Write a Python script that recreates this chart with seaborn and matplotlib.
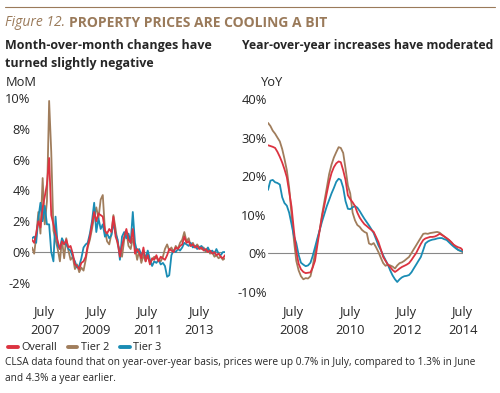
import numpy as np
import pandas as pd
import seaborn as sns
import matplotlib.pyplot as plt
from matplotlib.lines import Line2D

# month-over-month, Jan 2007 - Jul 2014 (%)
mom_overall = [0.8, 0.6, 1.2, 2.0, 1.6, 2.9, 3.6, 4.4, 6.1, 2.4, 1.8, 1.2, 0.7, 0.2, 0.7, 0.5,
               0.8, 0.3, 0.4, -0.1, -0.8, -0.9, -1.1, -0.7, -0.6, -0.3, 0.4, 1.0, 1.8, 2.6, 2.0, 2.5,
               2.4, 2.3, 1.4, 1.2, 1.5, 1.3, 2.3, 1.0, 0.6, -0.3, 0.4, 1.0, 1.5, 0.8, 0.6, 1.5,
               -0.1, 0.2, 0.0, -0.4, 0.3, -0.6, -0.2, -0.8, -0.4, -0.5, -0.2, -0.6, -0.3, -0.4, -0.5, -0.2,
               0.2, 0.1, 0.0, 0.3, 0.2, 0.4, 0.5, 1.0, 0.6, 0.7, 0.4, 0.5, 0.3, 0.4, 0.2, 0.3,
               0.1, 0.2, 0.0, 0.1, -0.1, 0.0, -0.2, -0.1, -0.3, -0.4, -0.2]
mom_tier2 = [0.3, -0.1, 1.0, 2.6, 1.2, 4.8, 1.8, 3.3, 9.8, 6.5, 1.4, 0.8, 0.2, -0.6, 0.8, -0.4,
             0.9, 0.1, -0.5, -0.3, -1.1, -0.8, -1.3, -1.0, -1.2, -0.5, 0.3, 0.8, 1.5, 2.3, 2.9, 2.2,
             3.4, 3.7, 1.4, 0.7, 0.5, 1.2, 2.4, 1.5, 0.5, 0.1, -0.3, 0.8, 1.3, 0.4, 0.2, 0.9,
             0.3, -0.5, 0.1, -0.7, -0.2, -0.6, 0.0, -0.7, -0.5, -0.3, -0.4, -0.5, -0.6, -0.3, 0.2, 0.5,
             0.1, 0.3, 0.0, 0.4, 0.2, 0.6, 0.8, 1.3, 0.7, 0.9, 0.4, 0.6, 0.3, 0.5, 0.3, 0.2,
             0.3, 0.0, 0.2, -0.1, 0.0, -0.3, -0.2, -0.4, -0.3, -0.5, -0.4]
mom_tier3 = [0.9, 1.0, 0.6, 2.2, 3.2, 2.0, 3.0, 1.8, 1.8, 0.0, -0.6, 2.3, 0.4, 0.2, 0.9, 0.6,
             0.5, 0.2, 0.1, -0.3, -0.6, -1.0, -0.9, -0.4, 0.3, 0.5, 0.6, 1.2, 2.0, 3.2, 1.3, 2.2,
             1.5, 1.8, 1.0, 1.2, 0.9, 1.1, 1.9, 1.2, 0.8, -0.5, 1.0, 1.3, 0.9, 1.2, 0.6, 2.6,
             0.6, 0.0, 0.2, -0.2, 0.0, -0.4, 0.1, -0.5, -0.9, -0.6, -0.7, -0.5, -0.8, -0.7, -0.9, -1.6,
             -1.5, -0.2, 0.1, 0.0, 0.2, 0.1, 0.3, 0.6, 0.5, 0.4, 0.6, 0.3, 0.4, 0.2, 0.3, 0.4,
             0.2, 0.1, 0.3, 0.0, 0.1, -0.1, 0.2, -0.1, -0.2, 0.0, 0.0]

# year-over-year, Aug 2007 - Jul 2014 (%)
yoy_overall = [28.0, 27.8, 27.6, 27.3, 26.3, 25.0, 23.5, 21.8, 19.7, 16.0, 12.0, 6.0, 0.5, -2.8,
               -4.2, -4.9, -5.2, -5.1, -5.0, -3.8, -2.0, 2.0, 6.0, 9.5, 12.5, 15.6, 18.5, 20.8,
               22.3, 23.3, 23.8, 23.6, 21.5, 19.0, 15.0, 14.0, 13.2, 12.2, 10.5, 9.2, 8.3, 7.5,
               7.0, 6.5, 6.0, 5.5, 4.2, 2.9, 1.0, -1.0, -2.0, -3.0, -3.6, -4.4, -4.9, -4.5,
               -4.0, -3.6, -3.3, -3.0, -2.6, -1.8, -0.9, 0.0, 1.2, 2.4, 3.4, 3.8, 4.0, 4.2,
               4.2, 4.3, 4.6, 5.0, 4.7, 4.3, 3.9, 3.4, 2.8, 2.2, 1.8, 1.5, 1.3, 0.7]
yoy_tier2 = [33.8, 33.0, 31.8, 31.0, 30.0, 29.0, 27.0, 24.5, 21.5, 17.0, 10.0, 3.5, -2.0, -4.5,
             -6.0, -6.8, -6.5, -6.6, -6.0, -3.6, 0.0, 3.2, 6.0, 10.0, 13.5, 17.0, 20.5, 23.0,
             24.8, 26.2, 27.5, 27.3, 26.0, 22.0, 17.5, 15.5, 10.5, 8.5, 7.3, 6.8, 6.0, 5.5,
             5.2, 2.5, 2.2, 2.6, 1.5, 0.3, -1.2, -2.6, -3.3, -3.0, -3.2, -3.5, -4.0, -3.2,
             -2.6, -2.4, -2.0, -1.5, -1.0, 0.0, 1.0, 2.0, 3.0, 4.0, 5.0, 5.1, 5.0, 5.2,
             5.3, 5.4, 5.5, 5.3, 4.8, 4.3, 3.8, 3.4, 2.8, 2.1, 1.4, 0.8, 0.5, 0.2]
yoy_tier3 = [16.4, 18.8, 19.0, 18.4, 18.2, 17.8, 14.5, 13.0, 12.3, 10.5, 7.5, 4.5, 2.6, -0.5,
             -2.5, -3.0, -3.4, -3.2, -2.5, -0.8, 1.5, 3.8, 6.0, 8.2, 10.2, 12.2, 13.8, 15.5,
             16.9, 18.5, 19.3, 19.0, 17.0, 13.5, 11.5, 11.4, 11.9, 12.2, 11.8, 10.9, 9.9, 8.9,
             8.0, 7.2, 6.2, 5.2, 3.6, 2.0, 0.8, -0.6, -1.8, -3.0, -4.5, -5.8, -6.8, -7.5,
             -6.8, -6.3, -6.0, -5.9, -5.7, -5.0, -4.0, -3.0, -2.0, -1.0, 0.8, 2.5, 3.0, 3.3,
             3.5, 3.6, 3.8, 3.9, 3.9, 3.6, 3.4, 2.8, 2.2, 1.7, 1.2, 0.8, 0.6, 0.4]

mom_ticks = ["2007-07-01", "2009-07-01", "2011-07-01", "2013-07-01"]
yoy_ticks = ["2008-07-01", "2010-07-01", "2012-07-01", "2014-07-01"]

red = "#dc3340"
brown = "#a07d5c"
blue = "#1a8cb4"
title_col = "#9a7a5a"

sns.set_theme(style="white")
plt.rcParams["font.family"] = ["Open Sans", "DejaVu Sans"]

mom_dates = pd.date_range("2007-01-01", periods=len(mom_overall), freq="MS")
yoy_dates = pd.date_range("2007-08-01", periods=len(yoy_overall), freq="MS")

fig = plt.figure(figsize=(5, 3.93), dpi=100)
ax1 = fig.add_axes([0.064, 0.280, 0.386, 0.471])
ax2 = fig.add_axes([0.536, 0.258, 0.390, 0.490])

def draw(ax, dates, t2, t3, ov):
    ax.axhline(0, color="#888888", lw=0.8, zorder=1)
    sns.lineplot(x=dates, y=t2, ax=ax, color=brown, lw=1.3, zorder=2)
    sns.lineplot(x=dates, y=t3, ax=ax, color=blue, lw=1.3, zorder=3)
    sns.lineplot(x=dates, y=ov, ax=ax, color=red, lw=1.3, zorder=4)
    ax.set_xlim(dates[0], dates[-1])
    sns.despine(ax=ax, left=True, bottom=True)
    ax.tick_params(length=0, labelsize=9.3, pad=1)
    ax.set_xlabel("")
    ax.set_ylabel("")

draw(ax1, mom_dates, mom_tier2, mom_tier3, mom_overall)
ax1.set_ylim(-2, 10)
ax1.set_yticks(range(-2, 11, 2))
ax1.set_yticklabels([f"{v}%" for v in range(-2, 11, 2)])
ax1.set_xticks(pd.to_datetime(mom_ticks))
ax1.set_xticklabels([f"July\n{d[:4]}" for d in mom_ticks], linespacing=1.5)
ax1.tick_params(axis="x", pad=16.5)

draw(ax2, yoy_dates, yoy_tier2, yoy_tier3, yoy_overall)
ax2.set_ylim(-10, 40)
ax2.set_yticks(range(-10, 41, 10))
ax2.set_yticklabels([f"{v}%" for v in range(-10, 41, 10)])
ax2.set_xticks(pd.to_datetime(yoy_ticks))
ax2.set_xticklabels([f"July\n{d[:4]}" for d in yoy_ticks], linespacing=1.5)
ax2.tick_params(axis="x", pad=10.5)

# header
fig.add_artist(Line2D([0.01, 0.99], [0.982, 0.982], color=title_col, lw=0.8))
t1 = fig.text(0.01, 0.942, "Figure 12.", color=title_col, fontsize=10,
              style="italic", va="center")
r = fig.canvas.get_renderer()
bb = t1.get_window_extent(r)
fig.text((bb.x1 + 4) / fig.bbox.width, 0.942, "PROPERTY PRICES ARE COOLING A BIT",
         color=title_col, fontsize=10, fontweight="bold", va="center")

fig.text(0.01, 1 - 45 / 393, "Month-over-month changes have",
         fontsize=9, fontweight="bold", va="center")
fig.text(0.01, 1 - 63 / 393, "turned slightly negative",
         fontsize=9, fontweight="bold", va="center")
fig.text(0.484, 1 - 45 / 393, "Year-over-year increases have moderated",
         fontsize=8.7, fontweight="bold", va="center")
fig.text(0.012, 1 - 82 / 393, "MoM", fontsize=9.3, va="center")
fig.text(0.522, 1 - 82 / 393, "YoY", fontsize=9.3, va="center")

handles = [Line2D([], [], color=c, lw=2.8) for c in (red, brown, blue)]
fig.legend(handles, ["Overall", "Tier 2", "Tier 3"], loc="center left",
           bbox_to_anchor=(0.016, 1 - 348 / 393), ncol=3, frameon=False, fontsize=7.8,
           handlelength=0.9, handletextpad=0.3, columnspacing=1.0, borderaxespad=0,
           borderpad=0)

fig.text(0.01, 1 - 362 / 393, "CLSA data found that on year-over-year basis, prices were up 0.7% in July, "
         "compared to 1.3% in June", fontsize=7.3, va="center")
fig.text(0.01, 1 - 378 / 393, "and 4.3% a year earlier.", fontsize=7.3, va="center")

fig.savefig("out.png", dpi=100)
